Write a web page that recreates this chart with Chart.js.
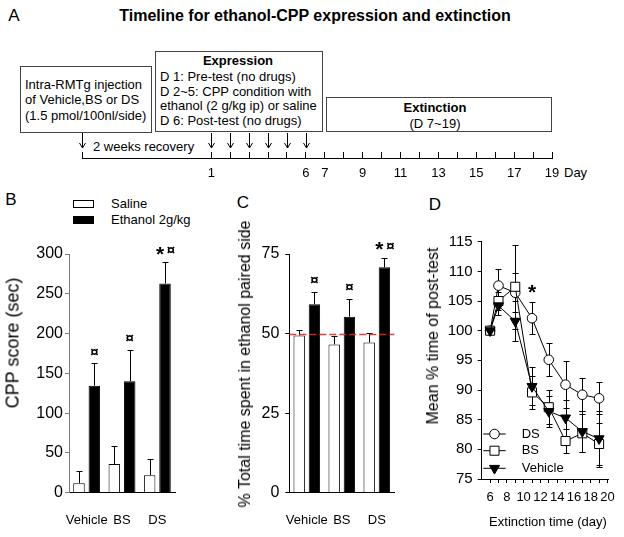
<!DOCTYPE html>
<html>
<head>
<meta charset="utf-8">
<script src="https://cdn.jsdelivr.net/npm/chart.js@4.4.1/dist/chart.umd.min.js"></script>
<style>
  body { margin: 0; background: #fff; }
  #page { position: relative; width: 624px; height: 537px; overflow: hidden;
          font-family: 'Liberation Sans', Arial, sans-serif; color: #000; }
  .t { position: absolute; white-space: nowrap; font-size: 13px; line-height: 16px; }
  .c { transform: translate(-50%, -50%); }
  .l { transform: translateY(-50%); }
  .rot { position: absolute; white-space: nowrap; transform: translate(-50%, -50%) rotate(-90deg); }
  .box { position: absolute; border: 1px solid #444; box-sizing: border-box; }
  .panel { position: absolute; }
  .lg { position: absolute; width: 21px; height: 8px; box-sizing: border-box; border: 1px solid #000; }
</style>
</head>
<body>
<div id="page">
  <!-- panel A -->
  <div class="t c" style="left:14px;top:16px;font-size:17px;">A</div>
  <div class="t c" style="left:315px;top:16px;font-size:16px;font-weight:bold;">Timeline for ethanol-CPP expression and extinction</div>

  <div class="box" style="left:20px;top:66px;width:132px;height:67px;"></div>
  <div class="t l" style="left:25px;top:85px;">Intra-RMTg injection</div>
  <div class="t l" style="left:25px;top:100px;">of Vehicle,BS or DS</div>
  <div class="t l" style="left:25px;top:116px;">(1.5 pmol/100nl/side)</div>

  <div class="box" style="left:155px;top:51px;width:168px;height:81px;"></div>
  <div class="t c" style="left:238px;top:61px;font-weight:bold;">Expression</div>
  <div class="t l" style="left:160px;top:77px;">D 1: Pre-test (no drugs)</div>
  <div class="t l" style="left:160px;top:92px;">D 2~5: CPP condition with</div>
  <div class="t l" style="left:160px;top:106px;">ethanol (2 g/kg ip) or saline</div>
  <div class="t l" style="left:160px;top:121px;">D 6: Post-test (no drugs)</div>

  <div class="box" style="left:326px;top:97px;width:226px;height:35px;"></div>
  <div class="t c" style="left:435px;top:108px;font-weight:bold;">Extinction</div>
  <div class="t c" style="left:435px;top:124px;">(D 7~19)</div>

  <div class="t l" style="left:93px;top:147px;">2 weeks recovery</div>
  <div class="t l" style="left:564px;top:173px;">Day</div>

  <div class="panel" style="left:0;top:125px;width:624px;height:60px;"><canvas id="chartA"></canvas></div>

  <!-- panel B -->
  <div class="t c" style="left:11px;top:200px;font-size:17px;">B</div>
  <div class="lg" style="left:73px;top:200px;background:#fff;"></div>
  <div class="lg" style="left:73px;top:216px;background:#000;"></div>
  <div class="t l" style="left:111px;top:204px;">Saline</div>
  <div class="t l" style="left:111px;top:220px;">Ethanol 2g/kg</div>
  <div class="panel" style="left:0;top:230px;width:190px;height:307px;"><canvas id="chartB"></canvas></div>
  <div class="rot" style="left:13px;top:343px;font-size:18px;">CPP score (sec)</div>

  <!-- panel C -->
  <div class="t c" style="left:243px;top:203px;font-size:17px;">C</div>
  <div class="panel" style="left:190px;top:230px;width:210px;height:307px;"><canvas id="chartC"></canvas></div>
  <div class="rot" style="left:245px;top:364px;font-size:16px;">% Total time spent in ethanol paired side</div>

  <!-- panel D -->
  <div class="t c" style="left:435px;top:205px;font-size:17px;">D</div>
  <div class="panel" style="left:400px;top:230px;width:224px;height:307px;"><canvas id="chartD"></canvas></div>
  <div class="rot" style="left:433px;top:336px;font-size:16px;">Mean % time of post-test</div>
  <div class="t c" style="left:548px;top:522px;">Extinction time (day)</div>
</div>

<script>
// ---- data ----
const recoveryStart = -5.83;   // start of the 2 week recovery on the day axis
const timelineTicks = [recoveryStart, 1, 2, 3, 4, 5, 6, 7, 8, 9, 10, 11, 12, 13, 14, 15, 16, 17, 18, 19];
const timelineLabels = [1, 6, 7, 9, 11, 13, 15, 17, 19];
const injectionDays = [recoveryStart, 1, 2, 3, 4, 5, 6];

const groups = ['Vehicle', 'BS', 'DS'];
const marks = ['¤', '¤', '*¤'];

const cppSaline = [12, 36, 22];
const cppSalineErr = [15, 23, 20];
const cppEthanol = [134.5, 140, 263];
const cppEthanolErr = [28, 39, 27];

const pctSaline = [49.4, 46.6, 47.2];
const pctSalineErr = [1.6, 2.7, 2.9];
const pctEthanol = [59.2, 55.3, 70.8];
const pctEthanolErr = [3.8, 5.6, 3.1];
const chanceLevel = 50;

const extDays = [6, 7, 9, 11, 13, 15, 17, 19];
const extTicks = [6, 7, 8, 9, 10, 11, 12, 13, 14, 15, 16, 17, 18, 19, 20];
const extDS = [100, 107.6, 106.4, 102.1, 95.1, 90.9, 89.2, 88.6];
const extDSErr = [0, 2.8, 3.3, 2.7, 2.8, 4.0, 2.8, 2.7];
const extBS = [100, 105.0, 107.4, 89.6, 87.1, 81.4, 82.7, 80.9];
const extBSErr = [0, 1.5, 7.1, 2.8, 2.9, 2.0, 3.2, 3.5];
const extVeh = [100, 104.2, 101.6, 90.6, 86.4, 85.3, 83.0, 81.8];
const extVehErr = [0, 1.6, 3.4, 3.2, 2.6, 3.0, 3.4, 4.7];
const extStars = ['', '', '', '*', '', '', '', ''];   // DS vs others

Chart.defaults.font.family = "'Liberation Sans', Arial, sans-serif";
Chart.defaults.color = '#000';

const FONT = "'Liberation Sans', Arial, sans-serif";

// error bars, drawn from each dataset's "errors" array
const errorBars = {
  id: 'errorBars',
  beforeDatasetsDraw(chart, args, opts) {
    if (opts.under) drawErrors(chart);
  },
  afterDatasetsDraw(chart, args, opts) {
    if (!opts.under) drawErrors(chart);
  }
};

const drawErrors = (chart) => {
  const ctx = chart.ctx;
  ctx.save();
  ctx.strokeStyle = '#000';
  ctx.lineWidth = 1;
  chart.data.datasets.forEach((ds, i) => {
    if (!ds.errors) return;
    const meta = chart.getDatasetMeta(i);
    const yScale = chart.scales[meta.yAxisID];
    meta.data.forEach((el, j) => {
      const e = ds.errors[j];
      if (!e) return;
      const v = typeof ds.data[j] === 'object' ? ds.data[j].y : ds.data[j];
      const x = Math.round(el.x) + 0.5;
      const top = Math.round(yScale.getPixelForValue(v + e)) + 0.5;
      const bottom = ds.bothSides ? Math.round(yScale.getPixelForValue(v - e)) + 0.5 : yScale.getPixelForValue(v);
      ctx.beginPath();
      ctx.moveTo(x, bottom);
      ctx.lineTo(x, top);
      ctx.moveTo(x - 3, top);
      ctx.lineTo(x + 3, top);
      if (ds.bothSides) {
        ctx.moveTo(x - 3, bottom);
        ctx.lineTo(x + 3, bottom);
      }
      ctx.stroke();
    });
  });
  ctx.restore();
};

// significance marks above the ethanol bars
const sigMarks = {
  id: 'sigMarks',
  afterDatasetsDraw(chart, args, opts) {
    if (!opts.marks) return;
    const ctx = chart.ctx;
    const ds = chart.data.datasets[opts.dataset];
    const meta = chart.getDatasetMeta(opts.dataset);
    const yScale = chart.scales.y;
    ctx.save();
    ctx.fillStyle = '#000';
    ctx.textAlign = 'center';
    ctx.textBaseline = 'middle';
    opts.marks.forEach((m, i) => {
      if (!m) return;
      const v = typeof ds.data[i] === 'object' ? ds.data[i].y : ds.data[i];
      const y = yScale.getPixelForValue(v + ds.errors[i]) - opts.gap;
      const x = meta.data[i].x;
      if (m.includes('*') && m.includes('¤')) {
        ctx.font = 'bold 21px ' + FONT;
        ctx.fillText('*', x - 5, y + 4);
        ctx.font = 'bold 15px ' + FONT;
        ctx.fillText('¤', x + 6, y);
      } else if (m === '*') {
        ctx.font = 'bold 21px ' + FONT;
        ctx.fillText('*', x, y + 4);
      } else {
        ctx.font = 'bold 15px ' + FONT;
        ctx.fillText('¤', x, y);
      }
    });
    ctx.restore();
  }
};

// dashed reference line (chance level) on panel C
const refLine = {
  id: 'refLine',
  afterDatasetsDraw(chart, args, opts) {
    if (opts.value === undefined) return;
    const {ctx, chartArea} = chart;
    const y = Math.round(chart.scales.y.getPixelForValue(opts.value)) + 0.5;
    ctx.save();
    ctx.strokeStyle = 'rgba(225, 40, 40, 0.9)';
    ctx.lineWidth = 1.5;
    ctx.setLineDash([7, 3]);
    ctx.beginPath();
    ctx.moveTo(chartArea.left, y);
    ctx.lineTo(chartArea.right, y);
    ctx.stroke();
    ctx.restore();
  }
};

// arrows above the timeline
const dayArrows = {
  id: 'dayArrows',
  afterDraw(chart, args, opts) {
    if (!opts.days) return;
    const ctx = chart.ctx;
    const xScale = chart.scales.x;
    ctx.save();
    ctx.strokeStyle = '#000';
    ctx.lineWidth = 1;
    opts.days.forEach(d => {
      const x = Math.round(xScale.getPixelForValue(d)) + 0.5;
      ctx.beginPath();
      ctx.moveTo(x, opts.top);
      ctx.lineTo(x, opts.bottom);
      ctx.moveTo(x - 3, opts.bottom - 5);
      ctx.lineTo(x, opts.bottom);
      ctx.lineTo(x + 3, opts.bottom - 5);
      ctx.stroke();
    });
    ctx.restore();
  }
};

// legend drawn inside panel D
const insideLegend = {
  id: 'insideLegend',
  afterDraw(chart, args, opts) {
    if (!opts.rows) return;
    const ctx = chart.ctx;
    ctx.save();
    chart.data.datasets.forEach((ds, i) => {
      const y = opts.rows[i];
      ctx.strokeStyle = '#000';
      ctx.lineWidth = 1;
      ctx.beginPath();
      ctx.moveTo(opts.x0, y);
      ctx.lineTo(opts.x1, y);
      ctx.stroke();
      ctx.fillStyle = ds.pointBackgroundColor;
      Chart.helpers.drawPoint(ctx, {
        pointStyle: ds.pointStyle, rotation: ds.pointRotation || 0,
        radius: ds.pointRadius, borderWidth: 1
      }, (opts.x0 + opts.x1) / 2, y);
      ctx.fillStyle = '#000';
      ctx.font = '13px ' + FONT;
      ctx.textAlign = 'left';
      ctx.textBaseline = 'middle';
      ctx.fillText(ds.label, opts.textX, y);
    });
    ctx.restore();
  }
};

const fixY = (w) => (s) => { s.width = w; s.paddingTop = 0; s.paddingBottom = 0; };
const fixX = (h) => (s) => { s.height = h; s.paddingLeft = 0; s.paddingRight = 0; };

// ---- A: timeline ----
new Chart(document.getElementById('chartA'), {
  type: 'scatter',
  data: { datasets: [] },
  plugins: [dayArrows],
  options: {
    animation: false, responsive: true, maintainAspectRatio: false, events: [],
    layout: { padding: { left: 82, right: 624 - 552, top: 27, bottom: 0 } },
    plugins: {
      legend: { display: false }, tooltip: { enabled: false },
      dayArrows: { days: injectionDays, top: 8, bottom: 23 }
    },
    scales: {
      x: {
        type: 'linear', min: recoveryStart, max: 19,
        afterBuildTicks: s => { s.ticks = timelineTicks.map(v => ({ value: v })); },
        afterFit: fixX(27),
        grid: { drawTicks: false, color: '#000', lineWidth: 1 },
        border: { color: '#000', width: 1 },
        ticks: {
          autoSkip: false, maxRotation: 0, padding: 8, font: { size: 13 },
          callback: v => timelineLabels.includes(v) ? String(v) : ''
        }
      },
      y: { display: false, min: 0, max: 1 }
    }
  }
});

// ---- bar panels B and C ----
const barChart = (id, saline, salineErr, ethanol, ethanolErr, yMax, yStep, yWidth, padRight, axisColor, extra) => {
  return new Chart(document.getElementById(id), {
    type: 'bar',
    data: {
      labels: groups,
      datasets: [
        { label: 'Saline', data: saline, errors: salineErr, backgroundColor: '#fff', borderColor: '#000', borderWidth: 1 },
        { label: 'Ethanol 2g/kg', data: ethanol, errors: ethanolErr, backgroundColor: '#000', borderColor: '#000', borderWidth: 1 }
      ]
    },
    plugins: [errorBars, sigMarks, refLine],
    options: {
      animation: false, responsive: true, maintainAspectRatio: false, events: [],
      categoryPercentage: 0.87, barPercentage: 0.75,
      layout: { padding: { left: 0, right: padRight, top: 24, bottom: 0 } },
      plugins: {
        legend: { display: false }, tooltip: { enabled: false },
        sigMarks: { marks: marks, dataset: 1, gap: 11 },
        refLine: extra
      },
      scales: {
        x: {
          afterFit: fixX(307 - 262.7),
          grid: { display: false, drawTicks: false },
          border: { color: '#000', width: 1 },
          ticks: { padding: 20, autoSkip: false, maxRotation: 0, minRotation: 0, font: { size: 13 } }
        },
        y: {
          min: 0, max: yMax,
          afterFit: fixY(yWidth),
          grid: { drawOnChartArea: false, tickLength: 4, color: axisColor },
          border: { color: axisColor, width: 1 },
          ticks: { stepSize: yStep, padding: yWidth > 80 ? 6 : 2, font: { size: 16 } }
        }
      }
    }
  });
};

barChart('chartB', cppSaline, cppSalineErr, cppEthanol, cppEthanolErr, 300, 50, 69, 15, '#7a7a7a', {});
barChart('chartC', pctSaline, pctSalineErr, pctEthanol, pctEthanolErr, 75, 25, 99.3, 5.7, '#000', { value: chanceLevel });

// ---- D: extinction ----
const pts = (ys) => ys.map((y, i) => ({ x: extDays[i], y }));

new Chart(document.getElementById('chartD'), {
  type: 'line',
  data: {
    datasets: [
      { label: 'DS', data: pts(extDS), errors: extDSErr, bothSides: true, order: 3,
        pointStyle: 'circle', pointRadius: 4.8, pointBackgroundColor: '#fff' },
      { label: 'BS', data: pts(extBS), errors: extBSErr, bothSides: true, order: 2,
        pointStyle: 'rect', pointRadius: 6.4, pointBackgroundColor: '#fff' },
      { label: 'Vehicle', data: pts(extVeh), errors: extVehErr, bothSides: true, order: 1,
        pointStyle: 'triangle', pointRotation: 180, pointRadius: 5.8, pointBackgroundColor: '#000' }
    ].map(d => Object.assign({
      borderColor: '#000', borderWidth: 1, pointBorderColor: '#000', pointBorderWidth: 1,
      tension: 0, fill: false
    }, d))
  },
  plugins: [errorBars, sigMarks, insideLegend],
  options: {
    animation: false, responsive: true, maintainAspectRatio: false, events: [],
    layout: { padding: { left: 0, right: 15.7, top: 11.7, bottom: 0 } },
    plugins: {
      legend: { display: false }, tooltip: { enabled: false },
      errorBars: { under: true },
      sigMarks: { marks: extStars, dataset: 0, gap: 13 },
      insideLegend: { rows: [204, 220.7, 238.3], x0: 83.3, x1: 105.7, textX: 121.7 }
    },
    scales: {
      x: {
        type: 'linear', min: 5, max: 20.1,
        afterBuildTicks: s => { s.ticks = extTicks.map(v => ({ value: v })); },
        afterFit: fixX(58),
        grid: { drawOnChartArea: false, tickLength: 4, color: '#000' },
        border: { color: '#000', width: 1 },
        ticks: { autoSkip: false, maxRotation: 0, padding: 7, font: { size: 13 },
          callback: v => v % 2 === 0 ? String(v) : '' }
      },
      y: {
        min: 75, max: 115,
        afterFit: fixY(81.7),
        grid: { drawOnChartArea: false, tickLength: 4, color: '#000' },
        border: { color: '#000', width: 1 },
        ticks: { stepSize: 5, padding: 5, font: { size: 15 } }
      }
    }
  }
});
</script>
</body>
</html>
